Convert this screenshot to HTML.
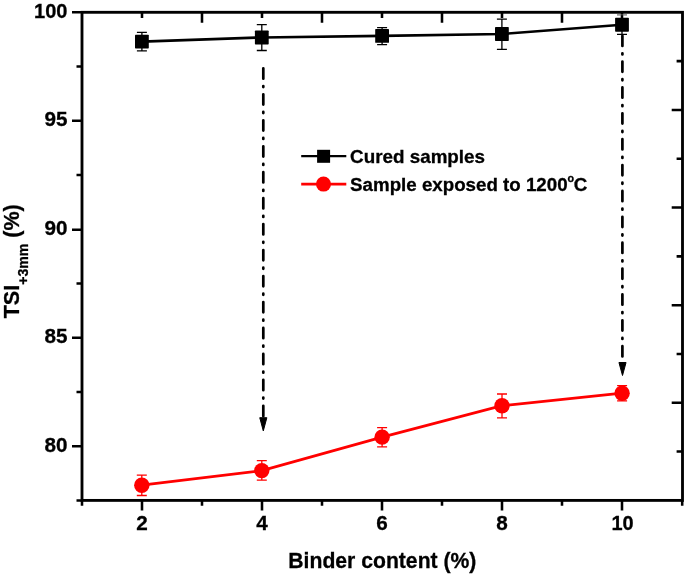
<!DOCTYPE html>
<html><head><meta charset="utf-8"><title>chart</title>
<style>html,body{margin:0;padding:0;background:#fff;}svg{display:block;will-change:transform;}text{font-family:"Liberation Sans",sans-serif;font-weight:bold;fill:#000;stroke:#000;stroke-width:0.3px;}</style>
</head><body>
<svg width="685" height="577" viewBox="0 0 685 577">
<rect x="0" y="0" width="685" height="577" fill="#fff"/>
<rect x="82.0" y="12.3" width="600.5" height="488.09999999999997" fill="none" stroke="#000" stroke-width="2.85"/>
<path d="M72 12.30H82.0M72 120.80H82.0M72 229.70H82.0M72 337.80H82.0M72 446.30H82.0M76.5 66.55H82.0M76.5 175.05H82.0M76.5 283.55H82.0M76.5 392.05H82.0M76.5 500.40H82.0M142 500.4V510.4M262 500.4V510.4M382 500.4V510.4M502 500.4V510.4M622 500.4V510.4M82 500.4V505.7M202 500.4V505.7M322 500.4V505.7M442 500.4V505.7M562 500.4V505.7M682.2 500.4V505.7M142 12.3v5.6M202 12.3v10.4M262 12.3v5.6M322 12.3v10.4M382 12.3v5.6M442 12.3v10.4M502 12.3v5.6M562 12.3v10.4M622 12.3v5.6M682.5 61.11h-5.9M682.5 109.92h-10.8M682.5 158.73h-5.9M682.5 207.54h-10.8M682.5 256.35h-5.9M682.5 305.16h-10.8M682.5 353.97h-5.9M682.5 402.78h-10.8M682.5 451.59h-5.9" stroke="#000" stroke-width="2.55" fill="none"/>
<g stroke="#000" stroke-width="2.7" stroke-linecap="round" fill="none">
<path d="M263.3 68.35V417" stroke-dasharray="10.3 7.35 1.1 7.21"/>
<path d="M622.4 35.7V358" stroke-dasharray="10.3 7.35 1.1 7.12"/>
</g>
<path d="M259.75 417.7h7.1l-3.55 13.2z" fill="#000" stroke="#000" stroke-width="1" stroke-linejoin="round"/>
<path d="M618.95 362.5h7.1l-3.55 13z" fill="#000" stroke="#000" stroke-width="1" stroke-linejoin="round"/>
<polyline points="141.9,41.6 261.8,37.45 382.1,35.9 501.9,33.95 622.0,24.7" fill="none" stroke="#000" stroke-width="2.6"/>
<path d="M617.0 14.9h10" stroke="#777" stroke-width="1.3" fill="none"/>
<path d="M141.9 32.4V50.9M136.9 32.4h10M136.9 50.9h10M261.8 24.6V50.5M256.8 24.6h10M256.8 50.5h10M382.1 27.6V44.7M377.1 27.6h10M377.1 44.7h10M501.9 19.2V49.3M496.9 19.2h10M496.9 49.3h10M622.0 14.6V34.4M617.0 34.4h10" stroke="#000" stroke-width="1.3" fill="none"/>
<rect x="135.00" y="34.65" width="13.8" height="13.9" rx="0.7" fill="#000"/>
<rect x="254.90" y="30.50" width="13.8" height="13.9" rx="0.7" fill="#000"/>
<rect x="375.20" y="28.95" width="13.8" height="13.9" rx="0.7" fill="#000"/>
<rect x="495.00" y="27.00" width="13.8" height="13.9" rx="0.7" fill="#000"/>
<rect x="615.10" y="17.75" width="13.8" height="13.9" rx="0.7" fill="#000"/>
<polyline points="141.8,485.2 261.8,470.6 382.1,437.15 502.0,405.7 622.1,393.2" fill="none" stroke="#f00" stroke-width="2.7"/>
<path d="M141.8 475.1V495.5M136.8 475.1h10M136.8 495.5h10M261.8 460.7V480.1M256.8 460.7h10M256.8 480.1h10M382.1 427.7V446.9M377.1 427.7h10M377.1 446.9h10M502.0 394.0V417.9M497.0 394.0h10M497.0 417.9h10M622.1 385.7V400.9M617.1 385.7h10M617.1 400.9h10" stroke="#f00" stroke-width="1.3" fill="none"/>
<circle cx="141.8" cy="485.2" r="7.7" fill="#f00"/>
<circle cx="261.8" cy="470.6" r="7.7" fill="#f00"/>
<circle cx="382.1" cy="437.15" r="7.7" fill="#f00"/>
<circle cx="502.0" cy="405.7" r="7.7" fill="#f00"/>
<circle cx="622.1" cy="393.2" r="7.7" fill="#f00"/>
<path d="M301.2 156.1H346.3" stroke="#000" stroke-width="2.2"/>
<rect x="317.1" y="149.8" width="13" height="13" fill="#000"/>
<path d="M301.2 184.1H346.3" stroke="#f00" stroke-width="2.6"/>
<circle cx="323.5" cy="184.1" r="7.5" fill="#f00"/>
<text transform="translate(350.1 162.7) scale(0.986 1)" font-size="19.1" text-anchor="start" id="lg1">Cured samples</text>
<text transform="translate(350.1 191.0) scale(0.981 1)" font-size="19.1" text-anchor="start" id="lg2">Sample exposed to 1200<tspan font-size="11" dy="-9" dx="0">o</tspan><tspan dy="9" dx="-0.5">C</tspan></text>
<text transform="translate(67.5 17.65) scale(0.955 1)" font-size="21.0" text-anchor="end" class="yl">100</text>
<text transform="translate(67.5 125.7) scale(0.985 1)" font-size="21.0" text-anchor="end" class="yl">95</text>
<text transform="translate(67.5 234.7) scale(0.985 1)" font-size="21.0" text-anchor="end" class="yl">90</text>
<text transform="translate(67.5 343.4) scale(0.985 1)" font-size="21.0" text-anchor="end" class="yl">85</text>
<text transform="translate(67.5 451.9) scale(0.985 1)" font-size="21.0" text-anchor="end" class="yl">80</text>
<text transform="translate(142 530.4) scale(0.985 1)" font-size="21.0" text-anchor="middle" class="xl">2</text>
<text transform="translate(262 530.4) scale(0.985 1)" font-size="21.0" text-anchor="middle" class="xl">4</text>
<text transform="translate(382 530.4) scale(0.985 1)" font-size="21.0" text-anchor="middle" class="xl">6</text>
<text transform="translate(502 530.4) scale(0.985 1)" font-size="21.0" text-anchor="middle" class="xl">8</text>
<text transform="translate(622.5 530.4) scale(0.95 1)" font-size="21.0" text-anchor="middle" class="xl">10</text>
<text transform="translate(288.3 568.3) scale(0.9625 1)" font-size="22.0" text-anchor="start" id="xt">Binder content (%)</text>
<text transform="translate(19.3 318.3) rotate(-90) scale(0.963 1)" font-size="22.4" text-anchor="start" id="yt">TSI<tspan font-size="14.6" dy="8.3">+3mm</tspan><tspan dy="-8.3"> (%)</tspan></text>
</svg>
</body></html>
